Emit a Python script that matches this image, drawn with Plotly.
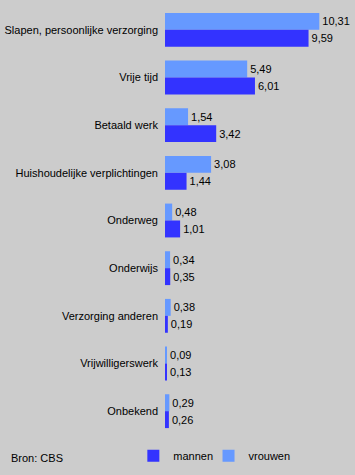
import plotly.graph_objects as go

categories = ["Slapen, persoonlijke verzorging", "Vrije tijd", "Betaald werk",
              "Huishoudelijke verplichtingen", "Onderweg", "Onderwijs",
              "Verzorging anderen", "Vrijwilligerswerk", "Onbekend"]
mannen = [9.59, 6.01, 3.42, 1.44, 1.01, 0.35, 0.19, 0.13, 0.26]
vrouwen = [10.31, 5.49, 1.54, 3.08, 0.48, 0.34, 0.38, 0.09, 0.29]

W, H = 355, 475
L, R, T, B = 163, 5, 6, 36
pw = W - L - R
ph = H - T - B
font = dict(family="Liberation Sans, Arial, sans-serif", size=11, color="#000000")

fig = go.Figure()
fig.add_trace(go.Bar(y=categories, x=vrouwen, name="vrouwen", orientation="h",
                     marker=dict(color="#6699ff", line=dict(width=0)),
                     texttemplate="%{x:.2f}", textposition="outside",
                     textfont=font, cliponaxis=False, legend="legend2"))
fig.add_trace(go.Bar(y=categories, x=mannen, name="mannen", orientation="h",
                     marker=dict(color="#3333ff", line=dict(width=0)),
                     texttemplate="%{x:.2f}", textposition="outside",
                     textfont=font, cliponaxis=False, legend="legend"))

leg_y = (H - B - 460) / ph
common = dict(orientation="h", xanchor="left", y=leg_y, yanchor="middle", font=font,
              bgcolor="rgba(0,0,0,0)", itemwidth=30)
fig.update_layout(
    width=W, height=H,
    margin=dict(l=L, r=R, t=T, b=B, pad=0),
    paper_bgcolor="#cccccc", plot_bgcolor="#cccccc",
    font=font,
    separators=",.",
    barmode="group", bargap=0.29, bargroupgap=0,
    showlegend=True,
    legend=dict(x=(131 - L) / pw, **common),
    legend2=dict(x=(207 - L) / pw, **common),
    xaxis=dict(range=[0, pw / 15.13], visible=False, fixedrange=True),
    yaxis=dict(autorange="reversed", showgrid=False, zeroline=False, showline=False,
               ticks="", ticklabelstandoff=6, tickfont=font, fixedrange=True),
    annotations=[dict(text="Bron: CBS", xref="paper", yref="paper",
                      x=(5 - L) / pw, y=(H - B - 462) / ph, xanchor="left", yanchor="middle",
                      showarrow=False, font=font)],
)

fig.write_html("out.html", config={"displayModeBar": False},
               post_script="document.body.style.margin='0';document.body.style.overflow='hidden';")
